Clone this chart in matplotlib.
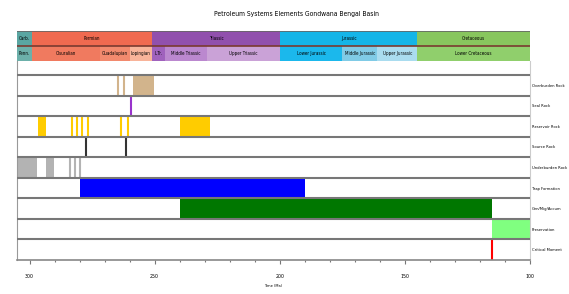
import matplotlib
matplotlib.use('Agg')
import matplotlib.pyplot as plt
from matplotlib import font_manager

# Petroleum system elements chart, ages in Ma
elements = ['Overburden Rock', 'Seal Rock', 'Reservoir Rock', 'Source Rock',
            'Underburden Rock', 'Trap Formation', 'Gen/Mig/Accum',
            'Preservation', 'Critical Moment']
element_colors = ['#d2b48c', '#9933cc', '#ffcc00', '#333333', '#b3b3b3',
                  '#0000ff', '#007700', '#80ff80', '#ff0000']

# wide intervals (old, young) per element
overburden_blocks = [(258.8, 250.1)]
seal_blocks = []
reservoir_blocks = [(296.8, 293.4), (239.7, 227.7)]
source_blocks = []
underburden_blocks = [(305, 297), (293.4, 290.1)]
trap_blocks = [(280, 190)]
gen_blocks = [(240, 115)]
preservation_blocks = [(115, 100)]
critical_blocks = []

# single events drawn as thin lines
overburden_lines = [264.7, 262.4]
seal_lines = [259.3]
reservoir_lines = [282.9, 280.9, 278.9, 276.5, 263.3, 260.5]
source_lines = [277.5, 261.5]
underburden_lines = [283.7, 281.7, 279.7]
trap_lines = []
gen_lines = []
preservation_lines = []
critical_lines = [115]

blocks = [overburden_blocks, seal_blocks, reservoir_blocks, source_blocks,
          underburden_blocks, trap_blocks, gen_blocks, preservation_blocks,
          critical_blocks]
lines = [overburden_lines, seal_lines, reservoir_lines, source_lines,
         underburden_lines, trap_lines, gen_lines, preservation_lines,
         critical_lines]

# time scale header
periods = ['Carb.', 'Permian', 'Triassic', 'Jurassic', 'Cretaceous']
period_bounds = [305, 299, 251, 200, 145, 100]
period_colors = ['#5aa6a2', '#f06a50', '#9150ad', '#14b5e8', '#88c65e']
epochs = ['Penn.', 'Cisuralian', 'Guadalupian', 'Lopingian', 'L.Tr.',
          'Middle Triassic', 'Upper Triassic', 'Lower Jurassic',
          'Middle Jurassic', 'Upper Jurassic', 'Lower Cretaceous']
epoch_bounds = [305, 299, 272, 260, 251, 246, 229, 200, 175, 161, 145, 100]
epoch_colors = ['#6cb0aa', '#f07a5f', '#f28a6e', '#f8b49a', '#a062bd',
                '#bb88cf', '#caa2d7', '#1bb8ec', '#80cbe6', '#aadcef',
                '#90cf6c']

# narrow font if one is installed, else condensed DejaVu, else plain
ttf = font_manager.fontManager.ttflist
names = {f.name for f in ttf}
if 'Liberation Sans Narrow' in names:
    fam, stretch, k = 'Liberation Sans Narrow', 'normal', 1.0
elif any(f.name == 'DejaVu Sans' and 'Condensed' in f.fname for f in ttf):
    fam, stretch, k = 'DejaVu Sans', 'condensed', 0.9
else:
    fam, stretch, k = 'DejaVu Sans', 'normal', 0.78
txt = dict(family=fam, stretch=stretch)

W, H = 569, 294
fig = plt.figure(figsize=(W / 100, H / 100), dpi=100)
fig.text(296 / W, 1 - 14 / H, 'Petroleum Systems Elements Gondwana Bengal Basin',
         ha='center', va='center', fontsize=5.4 * k, **txt)

# header axes
hx = fig.add_axes([17 / W, 1 - 61 / H, 513 / W, 30 / H])
for i in range(len(periods)):
    a, b = period_bounds[i], period_bounds[i + 1]
    hx.barh(1, b - a, left=a, height=1, align='edge', color=period_colors[i], lw=0)
    hx.text((a + b) / 2, 1.5, periods[i], ha='center', va='center',
            fontsize=3.6 * k, **txt)
for i in range(len(epochs)):
    a, b = epoch_bounds[i], epoch_bounds[i + 1]
    hx.barh(0, b - a, left=a, height=1, align='edge', color=epoch_colors[i], lw=0)
    hx.text((a + b) / 2, 0.5, epochs[i], ha='center', va='center',
            fontsize=3.6 * k, **txt)
hx.axhline(2, color='#666666', lw=1.2)
hx.axhline(1, color='#7a3a30', lw=1.2)
hx.set_xlim(305, 100)
hx.set_ylim(0, 2)
hx.axis('off')

# main axes
ax = fig.add_axes([17 / W, 1 - 260 / H, 513 / W, 199 / H])
n = len(elements)
for i in range(n):
    y0 = n - 1 - i
    for a, b in blocks[i]:
        ax.barh(y0, b - a, left=a, height=1, align='edge',
                color=element_colors[i], lw=0, zorder=2)
    if lines[i]:
        ax.vlines(lines[i], y0, y0 + 1, colors=element_colors[i], lw=1.5, zorder=2)
for j in range(1, n + 1):
    ax.axhline(j, color='#777777', lw=1.5, zorder=3)

ax.set_xlim(305, 100)
ax.set_ylim(0, 9.68)
ax.set_xticks([300, 250, 200, 150, 100])
ax.set_xticks(range(290, 100, -10), minor=True)
ax.tick_params(axis='x', which='major', length=3, width=0.8, color='#777777',
               pad=7, labelsize=4.2 * k)
ax.tick_params(axis='x', which='minor', length=1.5, width=0.8, color='#777777')
for lab in ax.get_xticklabels():
    lab.set_family(fam)
    lab.set_stretch(stretch)
ax.set_xlabel('Time (Ma)', fontsize=3.2 * k, labelpad=4, **txt)

ax.yaxis.tick_right()
ax.set_yticks([n - 1 - i + 0.5 for i in range(n)])
ax.set_yticklabels(elements, fontsize=3.3 * k, **txt)
ax.tick_params(axis='y', length=0, pad=1.5)

ax.spines['top'].set_visible(False)
ax.spines['left'].set_color('#999999')
ax.spines['bottom'].set_color('#888888')
ax.spines['bottom'].set_linewidth(1.2)
ax.spines['right'].set_color('#cccccc')

fig.savefig('out.png', dpi=100)
